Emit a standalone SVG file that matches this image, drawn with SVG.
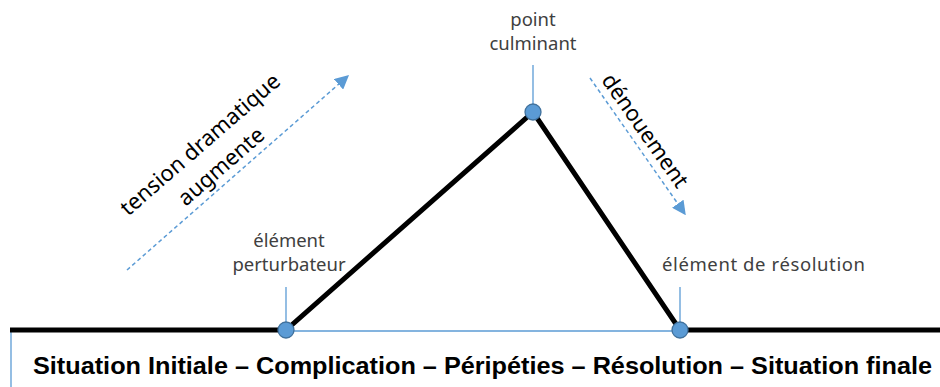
<svg xmlns="http://www.w3.org/2000/svg" width="940" height="387" viewBox="0 0 940 387">
<style>
.lbl{font-family:"Noto Sans","Open Sans",sans-serif;font-size:18.5px;fill:#404040}
.big{font-family:"Noto Sans","Open Sans",sans-serif;font-size:22px;fill:#000}
.main{font-family:"Liberation Sans",Arial,sans-serif;font-weight:bold;font-size:23px;fill:#000}
.thin{stroke:#5B9BD5;stroke-width:1.3;fill:none}
.thick{stroke:#000;stroke-width:5;fill:none;stroke-linejoin:miter}
.dash{stroke:#5B9BD5;stroke-width:1.5;stroke-dasharray:4,3;fill:none}
.dot{fill:#5B9BD5;stroke:#41719C;stroke-width:1.3}
</style>
<defs>
<marker id="ah" viewBox="0 0 10 10" refX="9" refY="5" markerWidth="14" markerHeight="14" markerUnits="userSpaceOnUse" orient="auto">
<path d="M0,0 L10,5 L0,10 z" fill="#5B9BD5"/>
</marker>
</defs>
<g id="connectors">
<line class="thin" x1="11" y1="331" x2="11" y2="387"/>
<line class="thin" x1="286" y1="331" x2="680" y2="331"/>
<line class="thin" x1="286" y1="287" x2="286" y2="330"/>
<line class="thin" x1="533" y1="65" x2="533" y2="112"/>
<line class="thin" x1="680" y1="287" x2="680" y2="330"/>
<polyline class="thick" points="10,330 286,330 533,112 680,330 940,330"/>
<line class="dash" x1="127" y1="270" x2="348" y2="76" marker-end="url(#ah)"/>
<line class="dash" x1="590" y1="78" x2="685" y2="214" marker-end="url(#ah)"/>
</g>
<g id="n-perturbateur">
<circle class="dot" cx="286" cy="330" r="8"/>
<text class="lbl" x="289" y="247" text-anchor="middle">élément</text>
<text class="lbl" x="289" y="271" text-anchor="middle">perturbateur</text>
</g>
<g id="n-culminant">
<circle class="dot" cx="533" cy="112" r="8"/>
<text class="lbl" x="533" y="26" text-anchor="middle">point</text>
<text class="lbl" x="533" y="50" text-anchor="middle">culminant</text>
</g>
<g id="n-resolution">
<circle class="dot" cx="680" cy="330" r="8"/>
<text class="lbl" x="662" y="271" textLength="203" lengthAdjust="spacing">élément de résolution</text>
</g>
<g id="tension">
<text class="big" transform="translate(205,150) rotate(-41)" text-anchor="middle">tension dramatique</text>
<text class="big" transform="translate(226,172) rotate(-41)" text-anchor="middle">augmente</text>
</g>
<g id="denouement">
<text class="big" transform="translate(639,135) rotate(55)" text-anchor="middle">dénouement</text>
</g>
<g id="stages">
<text class="main" x="33" y="374" textLength="899" lengthAdjust="spacingAndGlyphs">Situation Initiale – Complication – Péripéties – Résolution – Situation finale</text>
</g>
</svg>
